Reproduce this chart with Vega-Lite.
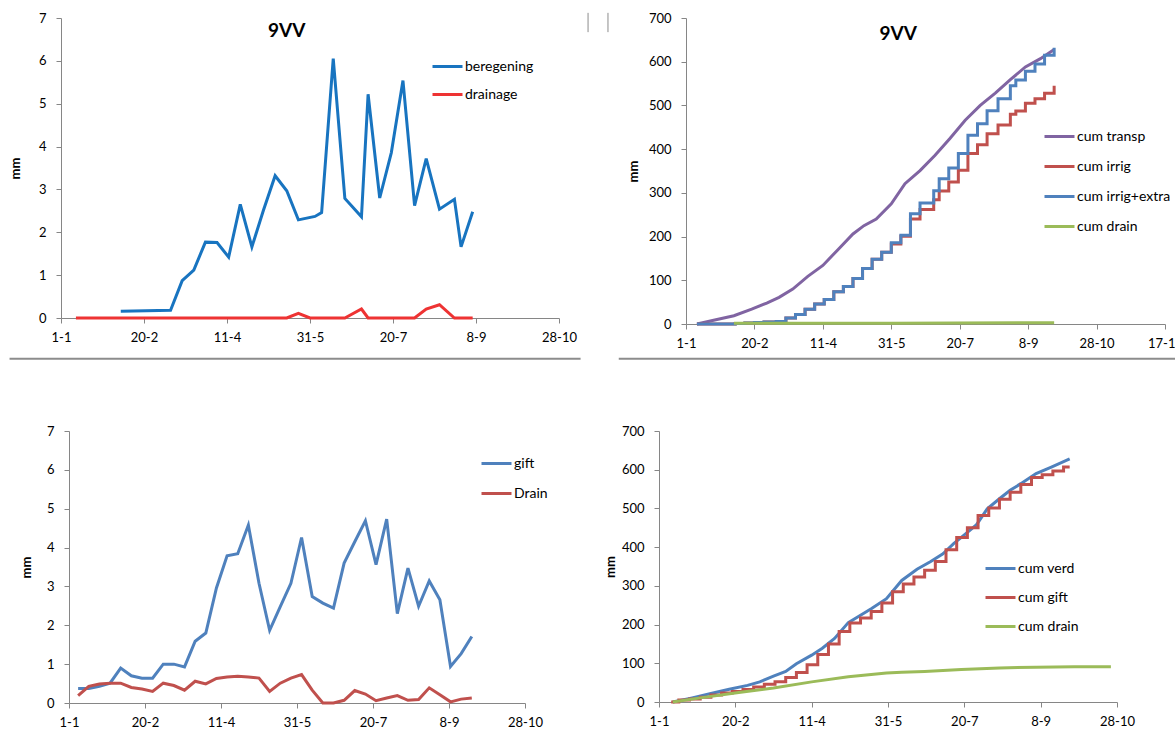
{
  "$schema": "https://vega.github.io/schema/vega-lite/v6.json",
  "padding": {"left": 8, "top": 12, "right": 0, "bottom": 0},
  "autosize": {"type": "pad"},
  "config": {
    "font": "Lato",
    "view": {"stroke": null},
    "axis": {"grid": false, "domainColor": "#868686", "tickColor": "#868686", "tickSize": 5, "labelFont": "Lato", "labelFontSize": 13, "labelColor": "#000000", "titleFont": "Lato", "titleFontSize": 13, "titleFontWeight": "bold", "titleColor": "#000000", "labelOverlap": false, "labelFlush": false},
    "axisX": {"labelPadding": 8, "title": null},
    "axisY": {"labelPadding": 10},
    "legend": {"symbolType": "stroke", "symbolSize": 900, "symbolStrokeWidth": 3, "labelFontSize": 14, "labelFont": "Lato", "labelColor": "#000000", "rowPadding": 4, "orient": "none", "title": null, "labelOffset": 1},
    "line": {"strokeWidth": 3}
  },
  "datasets": {
    "p1": [
      {"day": 36, "mm": 0.16, "series": "beregening"},
      {"day": 66, "mm": 0.18, "series": "beregening"},
      {"day": 73, "mm": 0.87, "series": "beregening"},
      {"day": 80, "mm": 1.12, "series": "beregening"},
      {"day": 87, "mm": 1.77, "series": "beregening"},
      {"day": 94, "mm": 1.76, "series": "beregening"},
      {"day": 101, "mm": 1.42, "series": "beregening"},
      {"day": 108, "mm": 2.65, "series": "beregening"},
      {"day": 115, "mm": 1.66, "series": "beregening"},
      {"day": 122, "mm": 2.52, "series": "beregening"},
      {"day": 129, "mm": 3.32, "series": "beregening"},
      {"day": 136, "mm": 2.97, "series": "beregening"},
      {"day": 143, "mm": 2.29, "series": "beregening"},
      {"day": 153, "mm": 2.37, "series": "beregening"},
      {"day": 157, "mm": 2.46, "series": "beregening"},
      {"day": 164, "mm": 6.05, "series": "beregening"},
      {"day": 171, "mm": 2.79, "series": "beregening"},
      {"day": 181, "mm": 2.36, "series": "beregening"},
      {"day": 185, "mm": 5.22, "series": "beregening"},
      {"day": 192, "mm": 2.8, "series": "beregening"},
      {"day": 199, "mm": 3.86, "series": "beregening"},
      {"day": 206, "mm": 5.54, "series": "beregening"},
      {"day": 213, "mm": 2.62, "series": "beregening"},
      {"day": 220, "mm": 3.72, "series": "beregening"},
      {"day": 228, "mm": 2.54, "series": "beregening"},
      {"day": 237, "mm": 2.77, "series": "beregening"},
      {"day": 241, "mm": 1.66, "series": "beregening"},
      {"day": 248, "mm": 2.48, "series": "beregening"},
      {"day": 9, "mm": 0, "series": "drainage"},
      {"day": 136, "mm": 0, "series": "drainage"},
      {"day": 143, "mm": 0.11, "series": "drainage"},
      {"day": 150, "mm": 0, "series": "drainage"},
      {"day": 171, "mm": 0, "series": "drainage"},
      {"day": 181, "mm": 0.21, "series": "drainage"},
      {"day": 185, "mm": 0, "series": "drainage"},
      {"day": 213, "mm": 0, "series": "drainage"},
      {"day": 220, "mm": 0.21, "series": "drainage"},
      {"day": 228, "mm": 0.31, "series": "drainage"},
      {"day": 237, "mm": 0, "series": "drainage"},
      {"day": 248, "mm": 0, "series": "drainage"}
    ],
    "p2": [
      {"day": 8, "mm": 0, "series": "cum transp"},
      {"day": 21, "mm": 9, "series": "cum transp"},
      {"day": 35, "mm": 19, "series": "cum transp"},
      {"day": 48, "mm": 34, "series": "cum transp"},
      {"day": 59, "mm": 48, "series": "cum transp"},
      {"day": 68, "mm": 61, "series": "cum transp"},
      {"day": 78, "mm": 80, "series": "cum transp"},
      {"day": 89, "mm": 109, "series": "cum transp"},
      {"day": 100, "mm": 134, "series": "cum transp"},
      {"day": 111, "mm": 170, "series": "cum transp"},
      {"day": 122, "mm": 206, "series": "cum transp"},
      {"day": 130, "mm": 225, "series": "cum transp"},
      {"day": 139, "mm": 240, "series": "cum transp"},
      {"day": 150, "mm": 275, "series": "cum transp"},
      {"day": 160, "mm": 321, "series": "cum transp"},
      {"day": 171, "mm": 351, "series": "cum transp"},
      {"day": 182, "mm": 386, "series": "cum transp"},
      {"day": 193, "mm": 425, "series": "cum transp"},
      {"day": 204, "mm": 466, "series": "cum transp"},
      {"day": 215, "mm": 500, "series": "cum transp"},
      {"day": 226, "mm": 528, "series": "cum transp"},
      {"day": 237, "mm": 559, "series": "cum transp"},
      {"day": 248, "mm": 588, "series": "cum transp"},
      {"day": 259, "mm": 607, "series": "cum transp"},
      {"day": 269, "mm": 628, "series": "cum transp"},
      {"day": 8, "mm": 0, "series": "cum irrig"},
      {"day": 36, "mm": 1, "series": "cum irrig"},
      {"day": 43, "mm": 2.5, "series": "cum irrig"},
      {"day": 50, "mm": 3.5, "series": "cum irrig"},
      {"day": 57, "mm": 4.5, "series": "cum irrig"},
      {"day": 66, "mm": 6, "series": "cum irrig"},
      {"day": 73, "mm": 14, "series": "cum irrig"},
      {"day": 80, "mm": 22, "series": "cum irrig"},
      {"day": 87, "mm": 34, "series": "cum irrig"},
      {"day": 94, "mm": 46, "series": "cum irrig"},
      {"day": 101, "mm": 56, "series": "cum irrig"},
      {"day": 108, "mm": 74, "series": "cum irrig"},
      {"day": 115, "mm": 86, "series": "cum irrig"},
      {"day": 122, "mm": 104, "series": "cum irrig"},
      {"day": 129, "mm": 127, "series": "cum irrig"},
      {"day": 136, "mm": 148, "series": "cum irrig"},
      {"day": 143, "mm": 164, "series": "cum irrig"},
      {"day": 150, "mm": 183, "series": "cum irrig"},
      {"day": 157, "mm": 201, "series": "cum irrig"},
      {"day": 164, "mm": 240, "series": "cum irrig"},
      {"day": 171, "mm": 262, "series": "cum irrig"},
      {"day": 181, "mm": 284, "series": "cum irrig"},
      {"day": 185, "mm": 304, "series": "cum irrig"},
      {"day": 192, "mm": 325, "series": "cum irrig"},
      {"day": 199, "mm": 352, "series": "cum irrig"},
      {"day": 206, "mm": 390, "series": "cum irrig"},
      {"day": 213, "mm": 410, "series": "cum irrig"},
      {"day": 220, "mm": 435, "series": "cum irrig"},
      {"day": 228, "mm": 455, "series": "cum irrig"},
      {"day": 237, "mm": 480, "series": "cum irrig"},
      {"day": 241, "mm": 487, "series": "cum irrig"},
      {"day": 248, "mm": 505, "series": "cum irrig"},
      {"day": 255, "mm": 515, "series": "cum irrig"},
      {"day": 262, "mm": 528, "series": "cum irrig"},
      {"day": 269, "mm": 545, "series": "cum irrig"},
      {"day": 8, "mm": 0, "series": "cum irrig+extra"},
      {"day": 36, "mm": 1, "series": "cum irrig+extra"},
      {"day": 43, "mm": 2.5, "series": "cum irrig+extra"},
      {"day": 50, "mm": 3.5, "series": "cum irrig+extra"},
      {"day": 57, "mm": 4.5, "series": "cum irrig+extra"},
      {"day": 66, "mm": 6, "series": "cum irrig+extra"},
      {"day": 73, "mm": 14, "series": "cum irrig+extra"},
      {"day": 80, "mm": 22, "series": "cum irrig+extra"},
      {"day": 87, "mm": 34, "series": "cum irrig+extra"},
      {"day": 94, "mm": 46, "series": "cum irrig+extra"},
      {"day": 101, "mm": 56, "series": "cum irrig+extra"},
      {"day": 108, "mm": 74, "series": "cum irrig+extra"},
      {"day": 115, "mm": 86, "series": "cum irrig+extra"},
      {"day": 122, "mm": 104, "series": "cum irrig+extra"},
      {"day": 129, "mm": 127, "series": "cum irrig+extra"},
      {"day": 136, "mm": 148, "series": "cum irrig+extra"},
      {"day": 143, "mm": 164, "series": "cum irrig+extra"},
      {"day": 150, "mm": 186, "series": "cum irrig+extra"},
      {"day": 157, "mm": 203, "series": "cum irrig+extra"},
      {"day": 164, "mm": 252, "series": "cum irrig+extra"},
      {"day": 171, "mm": 277, "series": "cum irrig+extra"},
      {"day": 181, "mm": 305, "series": "cum irrig+extra"},
      {"day": 185, "mm": 332, "series": "cum irrig+extra"},
      {"day": 192, "mm": 357, "series": "cum irrig+extra"},
      {"day": 199, "mm": 390, "series": "cum irrig+extra"},
      {"day": 206, "mm": 432, "series": "cum irrig+extra"},
      {"day": 213, "mm": 458, "series": "cum irrig+extra"},
      {"day": 220, "mm": 488, "series": "cum irrig+extra"},
      {"day": 228, "mm": 515, "series": "cum irrig+extra"},
      {"day": 237, "mm": 545, "series": "cum irrig+extra"},
      {"day": 241, "mm": 558, "series": "cum irrig+extra"},
      {"day": 248, "mm": 578, "series": "cum irrig+extra"},
      {"day": 255, "mm": 595, "series": "cum irrig+extra"},
      {"day": 262, "mm": 615, "series": "cum irrig+extra"},
      {"day": 269, "mm": 632, "series": "cum irrig+extra"},
      {"day": 35, "mm": 1.5, "series": "cum drain"},
      {"day": 150, "mm": 2, "series": "cum drain"},
      {"day": 269, "mm": 3, "series": "cum drain"}
    ],
    "p3": [
      {"day": 6, "mm": 0.37, "series": "gift"},
      {"day": 13, "mm": 0.37, "series": "gift"},
      {"day": 20, "mm": 0.43, "series": "gift"},
      {"day": 27, "mm": 0.51, "series": "gift"},
      {"day": 34, "mm": 0.9, "series": "gift"},
      {"day": 41, "mm": 0.7, "series": "gift"},
      {"day": 48, "mm": 0.64, "series": "gift"},
      {"day": 55, "mm": 0.64, "series": "gift"},
      {"day": 62, "mm": 1.0, "series": "gift"},
      {"day": 69, "mm": 1.0, "series": "gift"},
      {"day": 76, "mm": 0.93, "series": "gift"},
      {"day": 83, "mm": 1.59, "series": "gift"},
      {"day": 90, "mm": 1.8, "series": "gift"},
      {"day": 97, "mm": 2.96, "series": "gift"},
      {"day": 104, "mm": 3.79, "series": "gift"},
      {"day": 111, "mm": 3.84, "series": "gift"},
      {"day": 118, "mm": 4.58, "series": "gift"},
      {"day": 125, "mm": 3.08, "series": "gift"},
      {"day": 132, "mm": 1.87, "series": "gift"},
      {"day": 139, "mm": 2.48, "series": "gift"},
      {"day": 146, "mm": 3.08, "series": "gift"},
      {"day": 153, "mm": 4.26, "series": "gift"},
      {"day": 160, "mm": 2.74, "series": "gift"},
      {"day": 167, "mm": 2.57, "series": "gift"},
      {"day": 174, "mm": 2.44, "series": "gift"},
      {"day": 181, "mm": 3.6, "series": "gift"},
      {"day": 188, "mm": 4.15, "series": "gift"},
      {"day": 195, "mm": 4.69, "series": "gift"},
      {"day": 202, "mm": 3.56, "series": "gift"},
      {"day": 209, "mm": 4.73, "series": "gift"},
      {"day": 216, "mm": 2.3, "series": "gift"},
      {"day": 223, "mm": 3.47, "series": "gift"},
      {"day": 230, "mm": 2.49, "series": "gift"},
      {"day": 237, "mm": 3.14, "series": "gift"},
      {"day": 244, "mm": 2.66, "series": "gift"},
      {"day": 251, "mm": 0.94, "series": "gift"},
      {"day": 258, "mm": 1.27, "series": "gift"},
      {"day": 265, "mm": 1.71, "series": "gift"},
      {"day": 6, "mm": 0.19, "series": "Drain"},
      {"day": 13, "mm": 0.43, "series": "Drain"},
      {"day": 20, "mm": 0.49, "series": "Drain"},
      {"day": 27, "mm": 0.51, "series": "Drain"},
      {"day": 34, "mm": 0.51, "series": "Drain"},
      {"day": 41, "mm": 0.4, "series": "Drain"},
      {"day": 48, "mm": 0.36, "series": "Drain"},
      {"day": 55, "mm": 0.3, "series": "Drain"},
      {"day": 62, "mm": 0.51, "series": "Drain"},
      {"day": 69, "mm": 0.45, "series": "Drain"},
      {"day": 76, "mm": 0.33, "series": "Drain"},
      {"day": 83, "mm": 0.56, "series": "Drain"},
      {"day": 90, "mm": 0.49, "series": "Drain"},
      {"day": 97, "mm": 0.63, "series": "Drain"},
      {"day": 104, "mm": 0.67, "series": "Drain"},
      {"day": 111, "mm": 0.69, "series": "Drain"},
      {"day": 118, "mm": 0.67, "series": "Drain"},
      {"day": 125, "mm": 0.64, "series": "Drain"},
      {"day": 132, "mm": 0.3, "series": "Drain"},
      {"day": 139, "mm": 0.51, "series": "Drain"},
      {"day": 146, "mm": 0.64, "series": "Drain"},
      {"day": 153, "mm": 0.73, "series": "Drain"},
      {"day": 160, "mm": 0.33, "series": "Drain"},
      {"day": 167, "mm": 0.0, "series": "Drain"},
      {"day": 174, "mm": 0.0, "series": "Drain"},
      {"day": 181, "mm": 0.07, "series": "Drain"},
      {"day": 188, "mm": 0.32, "series": "Drain"},
      {"day": 195, "mm": 0.23, "series": "Drain"},
      {"day": 202, "mm": 0.06, "series": "Drain"},
      {"day": 209, "mm": 0.13, "series": "Drain"},
      {"day": 216, "mm": 0.19, "series": "Drain"},
      {"day": 223, "mm": 0.07, "series": "Drain"},
      {"day": 230, "mm": 0.09, "series": "Drain"},
      {"day": 237, "mm": 0.39, "series": "Drain"},
      {"day": 244, "mm": 0.21, "series": "Drain"},
      {"day": 251, "mm": 0.03, "series": "Drain"},
      {"day": 258, "mm": 0.1, "series": "Drain"},
      {"day": 265, "mm": 0.13, "series": "Drain"}
    ],
    "p4": [
      {"day": 9, "mm": 0, "series": "cum verd"},
      {"day": 21, "mm": 10, "series": "cum verd"},
      {"day": 34, "mm": 22, "series": "cum verd"},
      {"day": 46, "mm": 33, "series": "cum verd"},
      {"day": 58, "mm": 43, "series": "cum verd"},
      {"day": 66, "mm": 52, "series": "cum verd"},
      {"day": 75, "mm": 67, "series": "cum verd"},
      {"day": 83, "mm": 79, "series": "cum verd"},
      {"day": 90, "mm": 99, "series": "cum verd"},
      {"day": 100, "mm": 121, "series": "cum verd"},
      {"day": 107, "mm": 139, "series": "cum verd"},
      {"day": 115, "mm": 164, "series": "cum verd"},
      {"day": 124, "mm": 205, "series": "cum verd"},
      {"day": 132, "mm": 224, "series": "cum verd"},
      {"day": 139, "mm": 241, "series": "cum verd"},
      {"day": 149, "mm": 267, "series": "cum verd"},
      {"day": 159, "mm": 314, "series": "cum verd"},
      {"day": 169, "mm": 343, "series": "cum verd"},
      {"day": 178, "mm": 363, "series": "cum verd"},
      {"day": 186, "mm": 383, "series": "cum verd"},
      {"day": 193, "mm": 409, "series": "cum verd"},
      {"day": 201, "mm": 435, "series": "cum verd"},
      {"day": 208, "mm": 458, "series": "cum verd"},
      {"day": 215, "mm": 499, "series": "cum verd"},
      {"day": 223, "mm": 525, "series": "cum verd"},
      {"day": 230, "mm": 547, "series": "cum verd"},
      {"day": 237, "mm": 564, "series": "cum verd"},
      {"day": 247, "mm": 590, "series": "cum verd"},
      {"day": 257, "mm": 607, "series": "cum verd"},
      {"day": 269, "mm": 628, "series": "cum verd"},
      {"day": 8, "mm": 0, "series": "cum gift"},
      {"day": 13, "mm": 5, "series": "cum gift"},
      {"day": 20, "mm": 8, "series": "cum gift"},
      {"day": 27, "mm": 12, "series": "cum gift"},
      {"day": 34, "mm": 18, "series": "cum gift"},
      {"day": 41, "mm": 23, "series": "cum gift"},
      {"day": 48, "mm": 27, "series": "cum gift"},
      {"day": 55, "mm": 32, "series": "cum gift"},
      {"day": 62, "mm": 39, "series": "cum gift"},
      {"day": 69, "mm": 46, "series": "cum gift"},
      {"day": 76, "mm": 52, "series": "cum gift"},
      {"day": 83, "mm": 63, "series": "cum gift"},
      {"day": 90, "mm": 76, "series": "cum gift"},
      {"day": 97, "mm": 96, "series": "cum gift"},
      {"day": 104, "mm": 123, "series": "cum gift"},
      {"day": 111, "mm": 150, "series": "cum gift"},
      {"day": 118, "mm": 182, "series": "cum gift"},
      {"day": 125, "mm": 204, "series": "cum gift"},
      {"day": 132, "mm": 217, "series": "cum gift"},
      {"day": 139, "mm": 234, "series": "cum gift"},
      {"day": 146, "mm": 256, "series": "cum gift"},
      {"day": 153, "mm": 285, "series": "cum gift"},
      {"day": 160, "mm": 305, "series": "cum gift"},
      {"day": 167, "mm": 323, "series": "cum gift"},
      {"day": 174, "mm": 340, "series": "cum gift"},
      {"day": 181, "mm": 363, "series": "cum gift"},
      {"day": 188, "mm": 393, "series": "cum gift"},
      {"day": 195, "mm": 425, "series": "cum gift"},
      {"day": 202, "mm": 450, "series": "cum gift"},
      {"day": 209, "mm": 482, "series": "cum gift"},
      {"day": 216, "mm": 501, "series": "cum gift"},
      {"day": 223, "mm": 524, "series": "cum gift"},
      {"day": 230, "mm": 542, "series": "cum gift"},
      {"day": 237, "mm": 562, "series": "cum gift"},
      {"day": 244, "mm": 580, "series": "cum gift"},
      {"day": 251, "mm": 587, "series": "cum gift"},
      {"day": 258, "mm": 597, "series": "cum gift"},
      {"day": 265, "mm": 607, "series": "cum gift"},
      {"day": 269, "mm": 607, "series": "cum gift"},
      {"day": 9, "mm": 0, "series": "cum drain"},
      {"day": 26, "mm": 10, "series": "cum drain"},
      {"day": 51, "mm": 24, "series": "cum drain"},
      {"day": 75, "mm": 36, "series": "cum drain"},
      {"day": 100, "mm": 52, "series": "cum drain"},
      {"day": 124, "mm": 65, "series": "cum drain"},
      {"day": 149, "mm": 75, "series": "cum drain"},
      {"day": 159, "mm": 77, "series": "cum drain"},
      {"day": 174, "mm": 79, "series": "cum drain"},
      {"day": 198, "mm": 84, "series": "cum drain"},
      {"day": 223, "mm": 88, "series": "cum drain"},
      {"day": 247, "mm": 90, "series": "cum drain"},
      {"day": 272, "mm": 91, "series": "cum drain"},
      {"day": 296, "mm": 91, "series": "cum drain"}
    ]
  },
  "bounds": "full",
  "spacing": 65,
  "resolve": {"scale": {"color": "independent"}},
  "vconcat": [
    {
      "bounds": "flush",
      "spacing": 127,
      "resolve": {"scale": {"color": "independent"}},
      "hconcat": [
        {
          "width": 498,
          "height": 300,
          "layer": [
            {
              "data": {"name": "p1"},
              "mark": {"type": "line", "strokeWidth": 3},
              "encoding": {
                "x": {"field": "day", "type": "quantitative", "scale": {"domain": [0, 300], "nice": false, "zero": false}, "axis": {"values": [0, 50, 100, 150, 200, 250, 300], "labelExpr": "utcFormat(utc(2011, 0, 1 + datum.value), '%-d-%-m')"}},
                "y": {"field": "mm", "type": "quantitative", "scale": {"domain": [0, 7], "nice": false}, "axis": {"title": "mm", "values": [0, 1, 2, 3, 4, 5, 6, 7], "titlePadding": 16}},
                "color": {"field": "series", "type": "nominal", "scale": {"domain": ["beregening", "drainage"], "range": ["#1874C0", "#EE3333"]}, "legend": {"legendX": 370, "legendY": 32}}
              }
            },
            {
              "data": {"values": [{}]},
              "mark": {"type": "text", "fontSize": 19, "fontWeight": "bold", "font": "Lato", "color": "#000000"},
              "encoding": {"x": {"datum": 136, "type": "quantitative"}, "y": {"datum": 6.7, "type": "quantitative"}, "text": {"value": "9VV"}}
            },
            {
              "data": {"values": [{}]},
              "mark": {"type": "rule", "clip": false, "color": "#8C8C8C", "strokeWidth": 2},
              "encoding": {"x": {"datum": -31, "type": "quantitative"}, "x2": {"datum": 313}, "y": {"datum": -0.95, "type": "quantitative"}}
            },
            {
              "data": {"values": [{}]},
              "mark": {"type": "rule", "clip": false, "color": "#8C8C8C", "strokeWidth": 2},
              "encoding": {"x": {"datum": 336, "type": "quantitative"}, "x2": {"datum": 680}, "y": {"datum": -0.95, "type": "quantitative"}}
            },
            {
              "data": {"values": [{}]},
              "mark": {"type": "rule", "clip": false, "color": "#8C8C8C", "strokeWidth": 1},
              "encoding": {"x": {"datum": 317.5, "type": "quantitative"}, "y": {"datum": 7.12, "type": "quantitative"}, "y2": {"datum": 6.67}}
            },
            {
              "data": {"values": [{}]},
              "mark": {"type": "rule", "clip": false, "color": "#8C8C8C", "strokeWidth": 1},
              "encoding": {"x": {"datum": 329.5, "type": "quantitative"}, "y": {"datum": 7.12, "type": "quantitative"}, "y2": {"datum": 6.67}}
            }
          ]
        },
        {
          "width": 479,
          "height": 306,
          "layer": [
            {
              "data": {"name": "p2"},
              "encoding": {
                "x": {"field": "day", "type": "quantitative", "scale": {"domain": [0, 350], "nice": false, "zero": false}, "axis": {"values": [0, 50, 100, 150, 200, 250, 300, 350], "labelExpr": "utcFormat(utc(2011, 0, 1 + datum.value), '%-d-%-m')"}},
                "y": {"field": "mm", "type": "quantitative", "scale": {"domain": [0, 700], "nice": false}, "axis": {"title": "mm", "values": [0, 100, 200, 300, 400, 500, 600, 700], "titlePadding": 8}},
                "color": {"field": "series", "type": "nominal", "scale": {"domain": ["cum transp", "cum irrig", "cum irrig+extra", "cum drain"], "range": ["#8064A2", "#C0504D", "#4F81BD", "#9BBB59"]}, "legend": {"legendX": 357, "legendY": 102, "rowPadding": 6}}
              },
              "layer": [
                {
                  "transform": [{"filter": "datum.series === 'cum transp'"}],
                  "mark": {"type": "line", "strokeWidth": 3}
                },
                {
                  "transform": [{"filter": "datum.series === 'cum irrig' || datum.series === 'cum irrig+extra'"}],
                  "mark": {"type": "line", "strokeWidth": 3, "interpolate": "step-after"}
                },
                {
                  "transform": [{"filter": "datum.series === 'cum drain'"}],
                  "mark": {"type": "line", "strokeWidth": 3}
                }
              ]
            },
            {
              "data": {"values": [{}]},
              "mark": {"type": "text", "fontSize": 19, "fontWeight": "bold", "font": "Lato", "color": "#000000"},
              "encoding": {"x": {"datum": 155, "type": "quantitative"}, "y": {"datum": 663, "type": "quantitative"}, "text": {"value": "9VV"}}
            }
          ]
        }
      ]
    },
    {
      "bounds": "full",
      "spacing": 56,
      "resolve": {"scale": {"color": "independent"}},
      "hconcat": [
        {
          "bounds": "flush",
          "spacing": 7,
          "hconcat": [
            {"width": 1, "height": 1, "data": {"values": []}, "mark": {"type": "point", "opacity": 0}, "encoding": {}},
            {
              "width": 456,
              "height": 272,
              "data": {"name": "p3"},
              "mark": {"type": "line", "strokeWidth": 3},
              "encoding": {
                "x": {"field": "day", "type": "quantitative", "scale": {"domain": [0, 300], "nice": false, "zero": false}, "axis": {"values": [0, 50, 100, 150, 200, 250, 300], "labelExpr": "utcFormat(utc(2011, 0, 1 + datum.value), '%-d-%-m')"}},
                "y": {"field": "mm", "type": "quantitative", "scale": {"domain": [0, 7], "nice": false}, "axis": {"title": "mm", "values": [0, 1, 2, 3, 4, 5, 6, 7], "titlePadding": 13}},
                "color": {"field": "series", "type": "nominal", "scale": {"domain": ["gift", "Drain"], "range": ["#4F81BD", "#C0504D"]}, "legend": {"legendX": 419, "legendY": 16, "rowPadding": 6}}
              }
            }
          ]
        },
        {
          "width": 458,
          "height": 271,
          "data": {"name": "p4"},
          "encoding": {
            "x": {"field": "day", "type": "quantitative", "scale": {"domain": [0, 300], "nice": false, "zero": false}, "axis": {"values": [0, 50, 100, 150, 200, 250, 300], "labelExpr": "utcFormat(utc(2011, 0, 1 + datum.value), '%-d-%-m')"}},
            "y": {"field": "mm", "type": "quantitative", "scale": {"domain": [0, 700], "nice": false}, "axis": {"title": "mm", "values": [0, 100, 200, 300, 400, 500, 600, 700], "titlePadding": 4}},
            "color": {"field": "series", "type": "nominal", "scale": {"domain": ["cum verd", "cum gift", "cum drain"], "range": ["#4F81BD", "#C0504D", "#9BBB59"]}, "legend": {"legendX": 325, "legendY": 121, "rowPadding": 5}}
          },
          "layer": [
            {
              "transform": [{"filter": "datum.series === 'cum verd'"}],
              "mark": {"type": "line", "strokeWidth": 3}
            },
            {
              "transform": [{"filter": "datum.series === 'cum gift'"}],
              "mark": {"type": "line", "strokeWidth": 3, "interpolate": "step-after"}
            },
            {
              "transform": [{"filter": "datum.series === 'cum drain'"}],
              "mark": {"type": "line", "strokeWidth": 3}
            }
          ]
        }
      ]
    }
  ]
}
